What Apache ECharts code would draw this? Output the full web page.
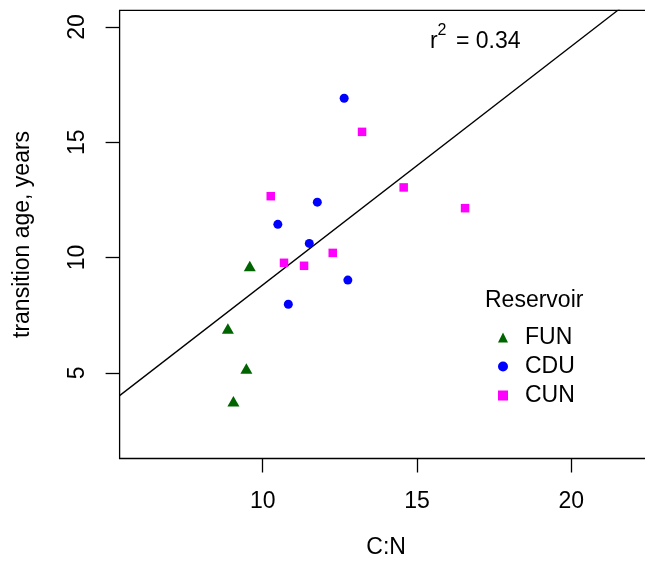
<!DOCTYPE html>
<html><head><meta charset="utf-8">
<script src="https://cdn.jsdelivr.net/npm/echarts@6/dist/echarts.min.js"></script>
<style>html,body{margin:0;padding:0;background:#fff}#c{width:645px;height:568px}</style>
</head><body><div id="c"></div>
<script>
// ---- data ----
const funCN  = [9.58, 8.87, 9.47, 9.05];
const funAge = [9.56, 6.85, 5.11, 3.69];
const cduCN  = [12.64, 11.77, 10.49, 11.51, 10.83, 12.76];
const cduAge = [16.91, 12.40, 11.44, 10.61, 7.97, 9.02];
const cunCN  = [13.22, 10.26, 14.57, 16.56, 12.27, 10.69, 11.34];
const cunAge = [15.45, 12.66, 13.04, 12.14, 10.20, 9.77, 9.64];
const groups = ['FUN', 'CDU', 'CUN'];
const xTicks = [10, 15, 20];
const yTicks = [5, 10, 15, 20];
const xRange = [6, 22];
const yRange = [2, 20];
const fitIntercept = -1.54;
const fitSlope = 1.035;
const rSquared = '0.34';
const xLabel = 'C:N';
const yLabel = 'transition age, years';
const legendTitle = 'Reservoir';

// ---- build ----
const FONT = "'Liberation Sans', Arial, sans-serif";
const FS = 23;
const ext = r => { const d = (r[1] - r[0]) * 0.04; return [r[0] - d, r[1] + d]; };
const xr = ext(xRange), yr = ext(yRange);
const zip = (a, b) => a.map((v, i) => [v, b[i]]);
const lineData = [[xr[0], fitIntercept + fitSlope * xr[0]], [xr[1], fitIntercept + fitSlope * xr[1]]];

const chart = echarts.init(document.getElementById('c'), null, {renderer: 'canvas'});
const axisCommon = {
  type: 'value',
  axisLine: {show: false},
  splitLine: {show: false},
  nameLocation: 'middle',
  nameTextStyle: {fontSize: FS, fontFamily: FONT, color: '#000'}
};
const txt = (x, y, text, size) => ({type: 'text', x: x, y: y, style: {text: text, font: size + 'px ' + FONT, fill: '#000', align: 'left', verticalAlign: 'middle', textAlign: 'left', textVerticalAlign: 'middle'}});
chart.setOption({
  animation: false,
  backgroundColor: '#fff',
  grid: {left: 119.6, top: 10.4, width: 533, height: 448.1, show: true, borderColor: '#000', borderWidth: 1.3,
         backgroundColor: 'transparent', containLabel: false, outerBoundsMode: 'none'},
  xAxis: Object.assign({}, axisCommon, {
    min: xr[0], max: xr[1],
    name: xLabel, nameGap: 78,
    axisTick: {show: true, inside: false, length: 14, customValues: xTicks, lineStyle: {color: '#000', width: 1.3}},
    axisLabel: {customValues: xTicks, margin: 32, fontSize: FS, fontFamily: FONT, color: '#000'}
  }),
  yAxis: Object.assign({}, axisCommon, {
    min: yr[0], max: yr[1],
    name: yLabel, nameGap: 85, nameRotate: 90,
    axisTick: {show: true, inside: false, length: 14, customValues: yTicks, lineStyle: {color: '#000', width: 1.3}},
    axisLabel: {customValues: yTicks, margin: 30, rotate: 90, fontSize: FS, fontFamily: FONT, color: '#000'}
  }),
  legend: {
    orient: 'vertical', left: 498, top: 326, padding: 0,
    itemWidth: 10, itemHeight: 10, itemGap: 6, selectedMode: false,
    textStyle: {fontSize: FS, fontFamily: FONT, color: '#000', lineHeight: 23, padding: [0, 0, 0, 12]},
    data: [{name: groups[0], icon: 'triangle'}, {name: groups[1], icon: 'circle'}, {name: groups[2], icon: 'rect'}]
  },
  graphic: [
    txt(485, 301, legendTitle, FS),
    txt(430, 42, 'r', FS),
    txt(437.5, 30.5, '2', 16),
    txt(456, 42, '= ' + rSquared, FS)
  ],
  series: [
    {type: 'line', data: lineData, symbol: 'none', clip: true, silent: true, z: 1,
     lineStyle: {color: '#000', width: 1.3}, legendHoverLink: false},
    {name: groups[0], type: 'scatter', data: zip(funCN, funAge), symbol: 'triangle', symbolSize: [12, 10.5], symbolOffset: [0, -1.7],
     itemStyle: {color: '#006400', opacity: 1}, z: 3},
    {name: groups[1], type: 'scatter', data: zip(cduCN, cduAge), symbol: 'circle', symbolSize: 9,
     itemStyle: {color: '#0000FF', opacity: 1}, z: 3},
    {name: groups[2], type: 'scatter', data: zip(cunCN, cunAge), symbol: 'rect', symbolSize: 8.5,
     itemStyle: {color: '#FF00FF', opacity: 1}, z: 3}
  ]
});
</script>
</body></html>
